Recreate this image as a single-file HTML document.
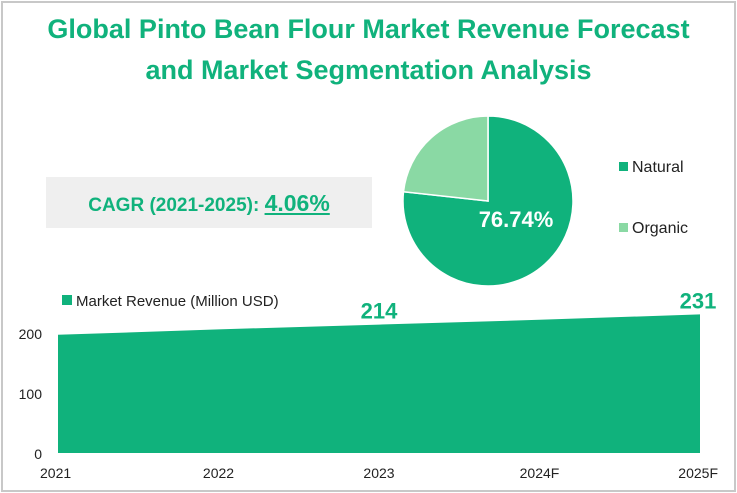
<!DOCTYPE html>
<html><head><meta charset="utf-8"><style>
body{margin:0;width:737px;height:493px;overflow:hidden;background:#fff;font-family:"Liberation Sans",sans-serif;}
#frame{position:absolute;left:1px;top:1px;width:731px;height:487px;border:2px solid #c8c8c8;}
.title{position:absolute;left:0;width:737px;text-align:center;color:#10b27c;font-weight:bold;font-size:27px;}
</style></head><body>
<div id="frame"></div>
<div class="title" style="top:14px">Global Pinto Bean Flour Market Revenue Forecast</div>
<div class="title" style="top:55px">and Market Segmentation Analysis</div>
<div style="position:absolute;left:46px;top:177px;width:326px;height:51px;background:#efefef;"></div>
<div style="position:absolute;left:46px;top:190px;width:326px;text-align:center;font-size:19px;font-weight:bold;color:#10b27c;">CAGR (2021-2025): <span style="font-size:23px;text-decoration:underline;">4.06%</span></div>
<svg id="svg" width="737" height="493" style="position:absolute;left:0;top:0"></svg>
<script>
const years=["2021","2022","2023","2024F","2025F"];
const revenue=[197,206,214,222,231];
const labelled=[2,4];
const yTicks=[0,100,200];
const pieLabels=["Natural","Organic"];
const pieValues=[76.74,23.26];
const pieColors=["#10b27c","#8ad9a4"];
const NS="http://www.w3.org/2000/svg";
const svg=document.getElementById('svg');
function mk(t,a,p){const e=document.createElementNS(NS,t);for(const k in a)e.setAttribute(k,a[k]);(p||svg).appendChild(e);return e;}
const x0=58,x1=700,yb=453,ppu=0.6;
const xs=i=>x0+i*(x1-x0)/(years.length-1);
const ys=v=>yb-v*ppu;
let d=`M${xs(0)},${yb}`;revenue.forEach((v,i)=>d+=` L${xs(i)},${ys(v)}`);d+=` L${xs(years.length-1)},${yb} Z`;
const area=mk('path',{d:d,fill:'#10b27c'});


yTicks.forEach(t=>{const e=mk('text',{x:42,y:ys(t)+6,'text-anchor':'end','font-size':14,fill:'#222'});e.textContent=t;

});
years.forEach((y,i)=>{const e=mk('text',{x:xs(i),y:478,'text-anchor':i==0?'start':(i==years.length-1?'end':'middle'),'font-size':14,fill:'#222'});e.textContent=y;
if(i==0)e.setAttribute('x',xs(i)-18);
if(i==years.length-1)e.setAttribute('x',xs(i)+18);

});
labelled.forEach(i=>{const e=mk('text',{x:i==years.length-1?xs(i)-2:xs(i),y:ys(revenue[i])-6,'text-anchor':i==years.length-1?'middle':'middle','font-size':22,'font-weight':'bold',fill:'#10b27c'});e.textContent=revenue[i];

});
const lg=mk('rect',{x:62,y:295,width:10,height:10,fill:'#10b27c'});


const lt=mk('text',{x:76,y:306,'font-size':15,fill:'#222'});lt.textContent='Market Revenue (Million USD)';


// pie
const cx=488,cy=201,r=85;let tot=pieValues.reduce((a,b)=>a+b,0),a0=-Math.PI/2;
pieValues.forEach((v,i)=>{const a1=a0+v/tot*2*Math.PI;const large=(a1-a0)>Math.PI?1:0;
const p=mk('path',{d:`M${cx},${cy} L${cx+r*Math.cos(a0)},${cy+r*Math.sin(a0)} A${r},${r} 0 ${large} 1 ${cx+r*Math.cos(a1)},${cy+r*Math.sin(a1)} Z`,fill:pieColors[i],stroke:'#fff','stroke-width':1.5});


a0=a1;
const sw=mk('rect',{x:619,y:162+i*61,width:9,height:9,fill:pieColors[i]});


const t=mk('text',{x:632,y:172+i*61,'font-size':16,fill:'#222'});t.textContent=pieLabels[i];

});
const pl=mk('text',{x:516,y:227,'text-anchor':'middle','font-size':22,'font-weight':'bold',fill:'#fff'});pl.textContent=pieValues[0].toFixed(2)+'%';


</script>
</body></html>
